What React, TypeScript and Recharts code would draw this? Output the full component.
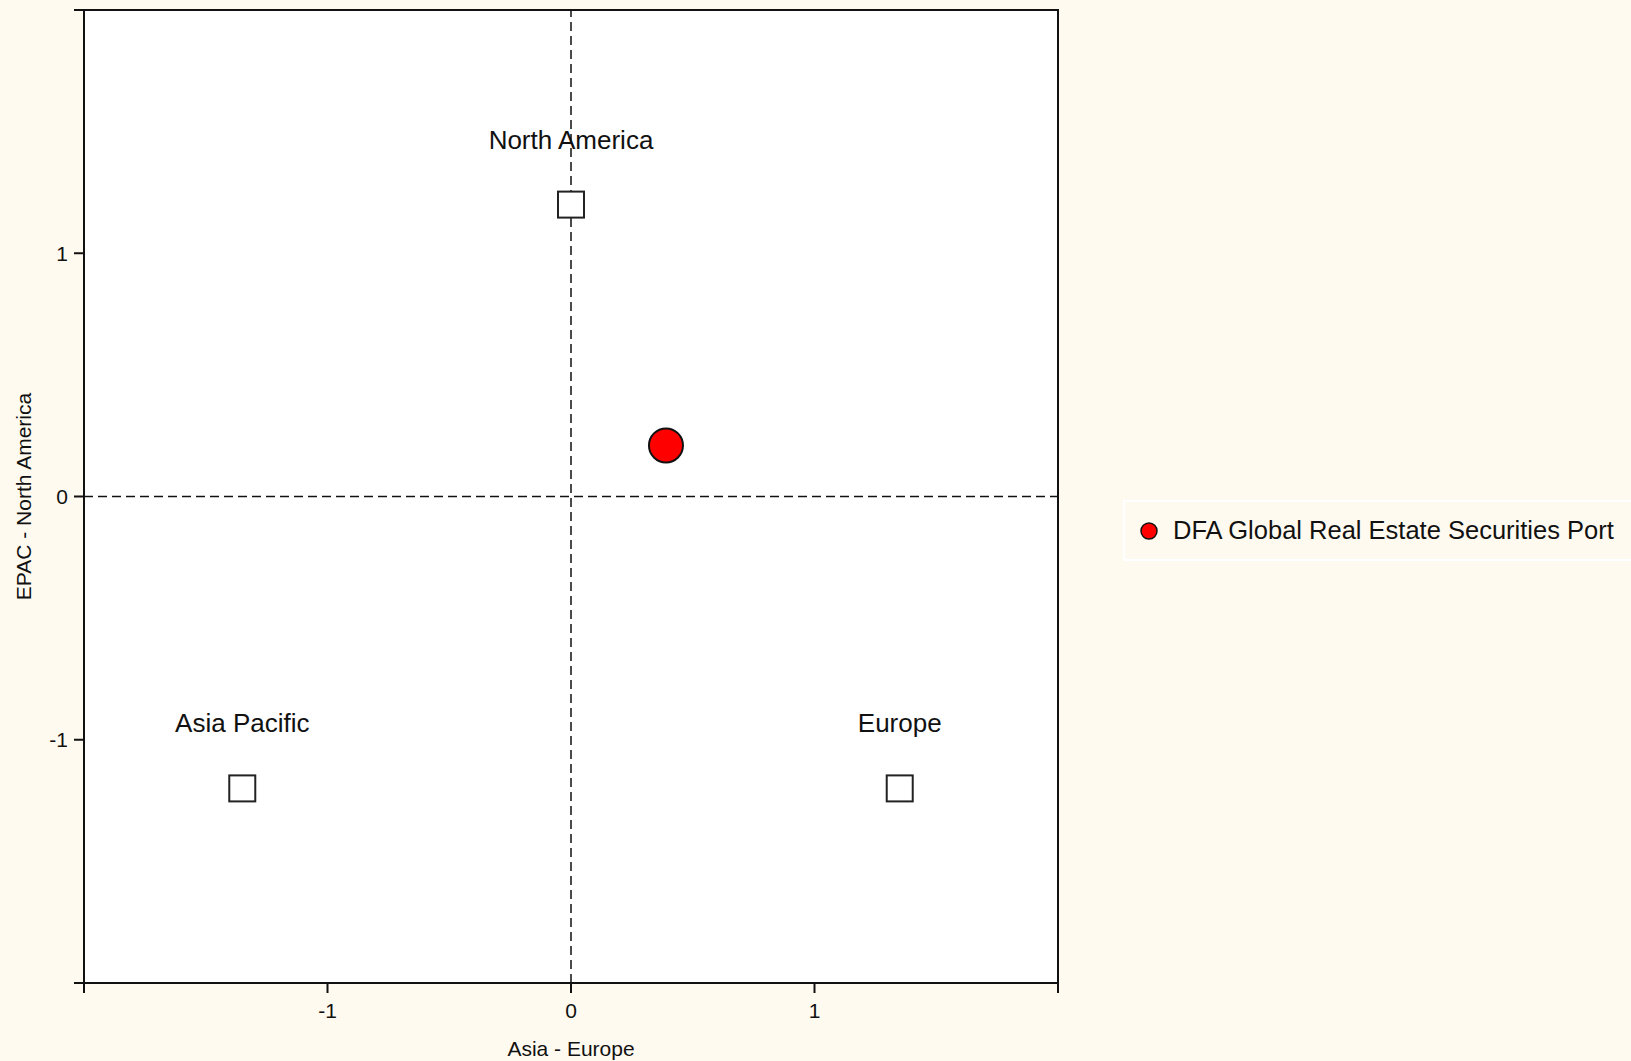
import {
  ScatterChart,
  Scatter,
  XAxis,
  YAxis,
  ReferenceLine,
  ReferenceArea,
} from 'recharts';

const regionNames = ['North America', 'Asia Pacific', 'Europe'];
const regionX = [0, -1.35, 1.35];
const regionY = [1.2, -1.2, -1.2];

const portfolioName = 'DFA Global Real Estate Securities Port';
const portfolioX = [0.39];
const portfolioY = [0.21];

const axisTicks = [-2, -1, 0, 1, 2];
const xTitle = 'Asia - Europe';
const yTitle = 'EPAC - North America';

const regions = regionNames.map((name, i) => ({ name, x: regionX[i], y: regionY[i] }));
const portfolio = portfolioX.map((x, i) => ({ name: portfolioName, x, y: portfolioY[i] }));

const bg = '#FFFAF0';
const ink = '#111';
const font = '"Liberation Sans", Arial, sans-serif';

const fmtTick = (v: number) => (v === -2 || v === 2 ? '' : String(v));

function RegionMark(props: any) {
  const { cx, cy, payload } = props;
  return (
    <g>
      <rect x={cx - 13} y={cy - 13} width={26} height={26} fill="#fff" stroke="#222" strokeWidth={2} />
      <text
        x={cx}
        y={cy - 65}
        textAnchor="middle"
        dominantBaseline="central"
        fontSize={26}
        fontFamily={font}
        fill={ink}
      >
        {payload.name}
      </text>
    </g>
  );
}

function PortfolioMark(props: any) {
  const { cx, cy } = props;
  return <circle cx={cx} cy={cy} r={17} fill="#ff0000" stroke="#111" strokeWidth={2} />;
}

// legend sits outside the svg, to the right of the plot
function LegendBox() {
  return (
    <div
      style={{
        position: 'absolute',
        left: 1123,
        top: 500,
        boxSizing: 'border-box',
        width: 520,
        height: 61,
        border: '2px solid #fff',
        display: 'flex',
        alignItems: 'center',
        fontFamily: font,
        fontSize: 25.5,
        color: ink,
        whiteSpace: 'nowrap',
      }}
    >
      <svg width={48} height={30} style={{ flex: 'none' }}>
        <circle cx={24} cy={15} r={8} fill="#ff0000" stroke="#111" strokeWidth={1.5} />
      </svg>
      <span>{portfolioName}</span>
    </div>
  );
}

export default function App() {
  return (
    <div
      style={{
        position: 'absolute',
        left: 0,
        top: 0,
        width: 1631,
        height: 1061,
        background: bg,
        overflow: 'hidden',
      }}
    >
      <ScatterChart width={1631} height={1061} margin={{ top: 10, right: 573, bottom: 0, left: 0 }}>
        <ReferenceArea
          x1={-2}
          x2={2}
          y1={-2}
          y2={2}
          fill="#fff"
          fillOpacity={1}
          stroke="#111"
          strokeWidth={2}
        />
        <XAxis
          type="number"
          dataKey="x"
          domain={[-2, 2]}
          ticks={axisTicks}
          tickFormatter={fmtTick}
          allowDataOverflow
          height={78}
          tickSize={10}
          axisLine={{ stroke: '#111', strokeWidth: 2 }}
          tickLine={{ stroke: '#111', strokeWidth: 2 }}
          tick={{ fill: ink, fontSize: 21, fontFamily: font, dy: 8 }}
          label={{
            value: xTitle,
            position: 'insideBottom',
            offset: 5,
            fill: ink,
            fontSize: 21,
            fontFamily: font,
          }}
        />
        <YAxis
          type="number"
          dataKey="y"
          domain={[-2, 2]}
          ticks={axisTicks}
          tickFormatter={fmtTick}
          allowDataOverflow
          width={84}
          tickSize={10}
          axisLine={{ stroke: '#111', strokeWidth: 2 }}
          tickLine={{ stroke: '#111', strokeWidth: 2 }}
          tick={{ fill: ink, fontSize: 21, fontFamily: font, dx: -4 }}
          label={{
            content: (p: any) => {
              const vb = p.viewBox || { x: 0, y: 10, width: 84, height: 973 };
              const cx = vb.x + 23;
              const cy = vb.y + vb.height / 2;
              return (
                <text
                  x={cx}
                  y={cy}
                  transform={`rotate(-90 ${cx} ${cy})`}
                  textAnchor="middle"
                  dominantBaseline="central"
                  fontSize={21}
                  fontFamily={font}
                  fill={ink}
                >
                  {yTitle}
                </text>
              );
            },
          }}
        />
        <ReferenceLine x={0} stroke="#111" strokeWidth={1.5} strokeDasharray="9 5" />
        <ReferenceLine y={0} stroke="#111" strokeWidth={1.5} strokeDasharray="9 5" />
        <Scatter name="regions" data={regions} shape={RegionMark} isAnimationActive={false} />
        <Scatter name={portfolioName} data={portfolio} shape={PortfolioMark} isAnimationActive={false} />
      </ScatterChart>
      <LegendBox />
    </div>
  );
}
